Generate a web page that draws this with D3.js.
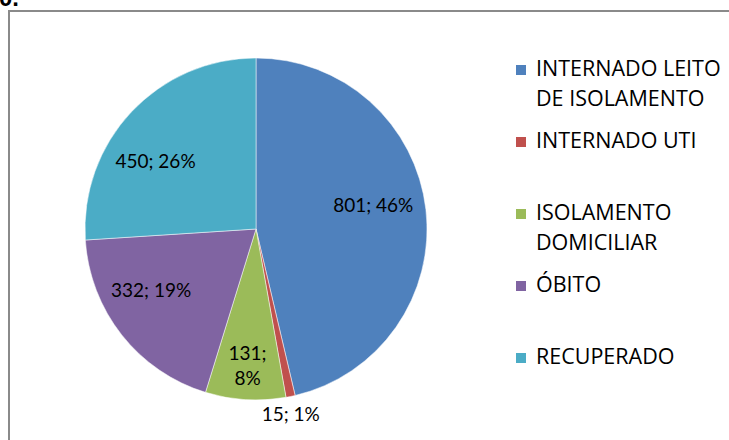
<!DOCTYPE html>
<html>
<head>
<meta charset="utf-8">
<script src="https://cdn.jsdelivr.net/npm/d3@7"></script>
<style>
  body { margin: 0; background: #fff; }
  svg { display: block; }
</style>
</head>
<body>
<svg id="chart"></svg>
<script>
// data
const categories = ['INTERNADO LEITO DE ISOLAMENTO', 'INTERNADO UTI', 'ISOLAMENTO DOMICILIAR', 'ÓBITO', 'RECUPERADO'];
const values = [801, 15, 131, 332, 450];
const percents = ['46%', '1%', '8%', '19%', '26%'];
const colors = ['#4F81BD', '#C0504D', '#9BBB59', '#8064A2', '#4BACC6'];

// label placement (angle nudge in degrees, radius as share of pie radius, split into two lines)
const label_nudge = [-5, 1, 0, 8, -9];
const label_radius = [0.70, 1.10, 0.80, 0.71, 0.71];
const label_split = [false, false, true, false, false];

let width = 729;
let height = 440;
let cx = 256;
let cy = 229;
let radius = 171;
let label_font = 'Lato, "Open Sans", sans-serif';
let legend_font = '"Open Sans", Lato, sans-serif';

const svg = d3.select('#chart').attr('width', width).attr('height', height);

// chart frame
svg.append('rect')
    .attr('x', 9).attr('y', 11)
    .attr('width', width + 20).attr('height', height + 20)
    .attr('fill', 'none')
    .attr('stroke', '#8a8a8a')
    .attr('stroke-width', 2);

// cut-off caption above the frame
svg.append('text')
    .attr('x', -1).attr('y', 6)
    .attr('font-family', '"Liberation Sans", Arial, sans-serif')
    .attr('font-weight', 'bold')
    .attr('font-size', 24)
    .attr('fill', '#000')
    .text('0.');

const pie = d3.pie().sort(null).value(d => d)(values);
const arc = d3.arc().innerRadius(0).outerRadius(radius);

const g = svg.append('g').attr('transform', `translate(${cx},${cy})`);

g.selectAll('path').data(pie).enter().append('path')
    .attr('d', arc)
    .attr('fill', (d, i) => colors[i])
    .attr('stroke', '#fff')
    .attr('stroke-width', 0.5);

g.selectAll('text.lbl').data(pie).enter().append('text')
    .attr('class', 'lbl')
    .attr('font-family', label_font)
    .attr('font-size', 19)
    .attr('fill', '#000')
    .attr('text-anchor', 'middle')
    .each(function (d, i) {
        let a = (d.startAngle + d.endAngle) / 2 + label_nudge[i] * Math.PI / 180;
        let r = radius * label_radius[i];
        let x = r * Math.sin(a);
        let y = -r * Math.cos(a);
        let t = d3.select(this).attr('transform', `translate(${x},${y})`);
        if (label_split[i]) {
            t.append('tspan').attr('x', 0).attr('y', -6).text(values[i] + ';');
            t.append('tspan').attr('x', 0).attr('y', 19.5).text(percents[i]);
        } else {
            t.attr('y', 7).text(values[i] + '; ' + percents[i]);
        }
    });

// legend
let legend_x = 516;
let legend_y = 76;
let legend_step = 72;
let line_step = 29.5;
let max_text = 200;

const legend = svg.append('g');
categories.forEach((name, i) => {
    let base = legend_y + i * legend_step;
    legend.append('rect')
        .attr('x', legend_x).attr('y', base - 11)
        .attr('width', 10).attr('height', 10)
        .attr('fill', colors[i]);
    let txt = legend.append('text')
        .attr('font-family', legend_font)
        .attr('font-size', 21.5)
        .attr('fill', '#000');
    // wrap words like the original legend
    let words = name.split(' ');
    let line = [];
    let row = 0;
    let tspan = txt.append('tspan').attr('x', legend_x + 20).attr('y', base);
    words.forEach(w => {
        line.push(w);
        tspan.text(line.join(' '));
        if (tspan.node().getComputedTextLength() > max_text && line.length > 1) {
            line.pop();
            tspan.text(line.join(' '));
            line = [w];
            row += 1;
            tspan = txt.append('tspan').attr('x', legend_x + 20).attr('y', base + row * line_step).text(w);
        }
    });
});
</script>
</body>
</html>
